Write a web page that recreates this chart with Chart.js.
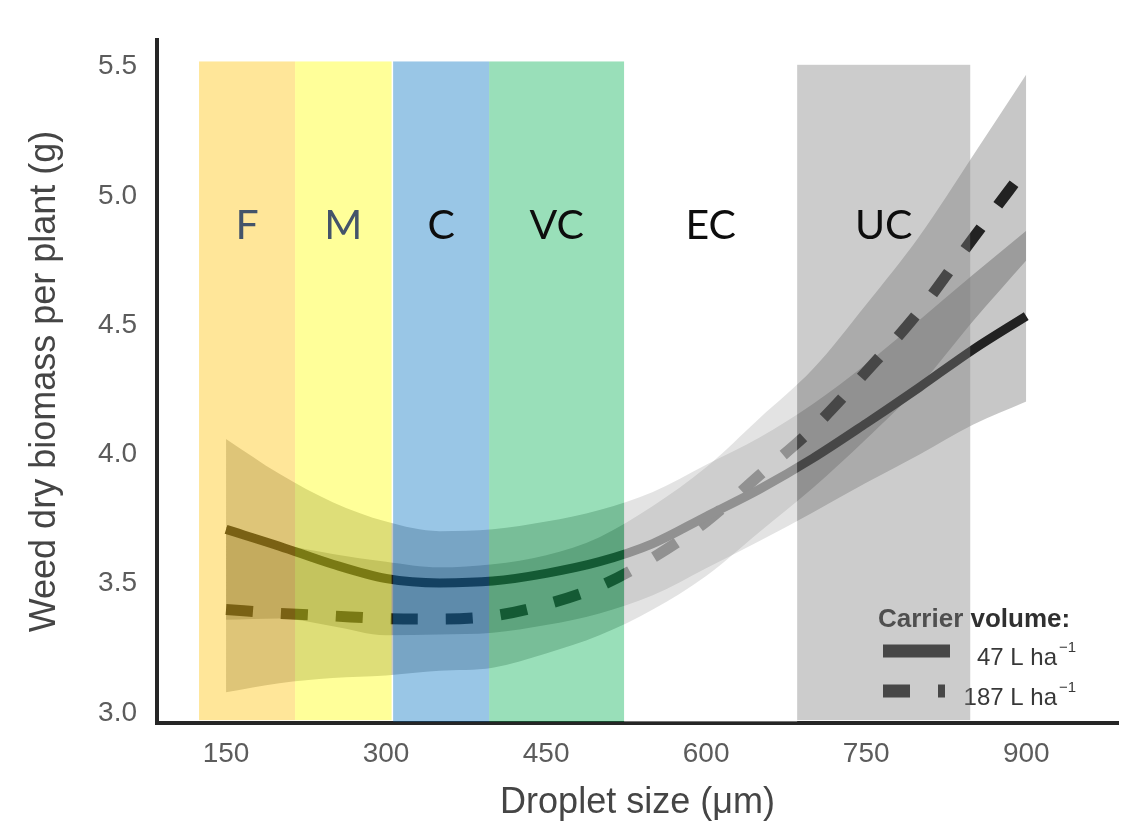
<!DOCTYPE html>
<html>
<head>
<meta charset="utf-8">
<script src="https://cdn.jsdelivr.net/npm/chart.js@4.4.1/dist/chart.umd.min.js"></script>
<style>
  html, body { margin: 0; padding: 0; background: #ffffff; }
  #wrap { width: 1137px; height: 825px; }
</style>
</head>
<body>
<div id="wrap"><canvas id="c" width="1137" height="825"></canvas></div>
<script>
// Fitted weed dry biomass (g per plant) against droplet size (µm), with confidence bands
const dropletSize = [150, 200, 250, 300, 350, 400, 450, 500, 550, 600, 650, 700, 750, 800, 850, 900];

const biomass47      = [3.71, 3.645, 3.575, 3.52, 3.503, 3.51, 3.54, 3.585, 3.655, 3.76, 3.865, 3.985, 4.12, 4.26, 4.405, 4.535];
const biomass47Upper = [4.06, 3.925, 3.815, 3.74, 3.703, 3.71, 3.74, 3.785, 3.855, 3.96, 4.065, 4.195, 4.35, 4.52, 4.695, 4.865];
const biomass47Lower = [3.36, 3.365, 3.335, 3.30, 3.303, 3.31, 3.34, 3.385, 3.455, 3.56, 3.665, 3.775, 3.89, 4.00, 4.115, 4.205];

const biomass187      = [3.40, 3.385, 3.375, 3.365, 3.363, 3.375, 3.42, 3.49, 3.60, 3.74, 3.92, 4.10, 4.32, 4.555, 4.835, 5.11];
const biomass187Upper = [3.72, 3.655, 3.615, 3.585, 3.563, 3.575, 3.61, 3.68, 3.80, 3.95, 4.14, 4.33, 4.58, 4.845, 5.155, 5.47];
const biomass187Lower = [3.08, 3.115, 3.135, 3.145, 3.163, 3.175, 3.23, 3.30, 3.40, 3.53, 3.70, 3.87, 4.06, 4.265, 4.515, 4.75];

const xTickValues = [150, 300, 450, 600, 750, 900];
const yTickValues = [3.0, 3.5, 4.0, 4.5, 5.0, 5.5];

// Droplet size classes shaded across the plot (µm ranges, biomass extent)
const classNames  = ['F', 'M', 'C', 'VC', 'EC', 'UC'];
const classFrom   = [124.7, 214.7, 306.6, 396.6, 523.1, 685.3];
const classTo     = [214.7, 305.2, 396.6, 523.1, 685.3, 847.5];
const classTop    = [5.52, 5.52, 5.52, 5.52, 5.52, 5.507];
const classBottom = [2.972, 2.972, 2.966, 2.966, 2.966, 2.972];

const legendTitle = 'Carrier volume:';
const seriesNames = ['47 L ha', '187 L ha'];
const unitExponent = '\u22121';

// ---- styles ----
const classStyle = {
  fill: ['rgba(255,192,0,0.4)', 'rgba(255,255,0,0.4)', 'rgba(0,112,192,0.4)',
         'rgba(0,176,80,0.4)', 'rgba(255,255,255,0.5)', 'rgba(128,128,128,0.4)'],
  text: ['#44546A', '#44546A', '#0d0d0d', '#0d0d0d', '#0d0d0d', '#0d0d0d'],
  font: '41px Lato',
  labelValue: 4.835
};
const lineColor = '#222222';
const bandColor = 'rgba(0,0,0,0.22)';
const sansFamily = "'Liberation Sans', Arial, sans-serif";

const pts = ys => dropletSize.map((x, i) => ({ x: x, y: ys[i] }));

const classOverlay = {
  id: 'classOverlay',
  afterDatasetsDraw(chart) {
    const ctx = chart.ctx;
    const xs = chart.scales.x, ys = chart.scales.y;
    const area = chart.chartArea;
    ctx.save();

    // legend, bottom right of the plot
    const lx = area.right - 240;
    const b = area.bottom;
    ctx.fillStyle = '#303030';
    ctx.font = 'bold 26px ' + sansFamily;
    ctx.textAlign = 'left';
    ctx.textBaseline = 'alphabetic';
    ctx.fillText(legendTitle, lx, b - 96);

    const ds = chart.data.datasets;
    const rows = [b - 72, b - 32];
    rows.forEach((ry, i) => {
      ctx.save();
      ctx.strokeStyle = ds[i].borderColor;
      ctx.lineWidth = 13;
      ctx.lineCap = 'butt';
      ctx.setLineDash(ds[i].borderDash || []);
      ctx.beginPath();
      ctx.moveTo(lx + 5, ry);
      ctx.lineTo(lx + (i === 0 ? 72 : 67), ry);
      ctx.stroke();
      ctx.restore();
      ctx.fillStyle = '#383838';
      ctx.font = '24px ' + sansFamily;
      ctx.textAlign = 'right';
      ctx.fillText(seriesNames[i], lx + 179, ry + 14);
      ctx.font = '15px ' + sansFamily;
      ctx.textAlign = 'left';
      ctx.fillText(unitExponent, lx + 181, ry + 1);
    });

    // droplet class bands
    classNames.forEach((name, i) => {
      const x0 = xs.getPixelForValue(classFrom[i]);
      const x1 = xs.getPixelForValue(classTo[i]);
      const y0 = ys.getPixelForValue(classTop[i]);
      const y1 = ys.getPixelForValue(classBottom[i]);
      ctx.fillStyle = classStyle.fill[i];
      ctx.fillRect(x0, y0, x1 - x0, y1 - y0);
    });

    // class names
    ctx.font = classStyle.font;
    ctx.textAlign = 'center';
    ctx.textBaseline = 'alphabetic';
    classNames.forEach((name, i) => {
      const cx = xs.getPixelForValue((classFrom[i] + classTo[i]) / 2);
      ctx.fillStyle = classStyle.text[i];
      ctx.fillText(name, cx, ys.getPixelForValue(classStyle.labelValue));
    });
    ctx.restore();
  }
};

new Chart(document.getElementById('c'), {
  type: 'line',
  data: {
    datasets: [
      { label: '47 L ha-1', data: pts(biomass47), borderColor: lineColor, borderWidth: 9,
        borderCapStyle: 'butt', pointRadius: 0, fill: false, cubicInterpolationMode: 'monotone' },
      { label: '187 L ha-1', data: pts(biomass187), borderColor: lineColor, borderWidth: 11,
        borderDash: [27, 28], borderCapStyle: 'butt', pointRadius: 0, fill: false,
        cubicInterpolationMode: 'monotone' },
      { label: '47 upper', data: pts(biomass47Upper), borderWidth: 0, pointRadius: 0,
        backgroundColor: bandColor, fill: '+1', cubicInterpolationMode: 'monotone' },
      { label: '47 lower', data: pts(biomass47Lower), borderWidth: 0, pointRadius: 0,
        fill: false, cubicInterpolationMode: 'monotone' },
      { label: '187 upper', data: pts(biomass187Upper), borderWidth: 0, pointRadius: 0,
        backgroundColor: bandColor, fill: '+1', cubicInterpolationMode: 'monotone' },
      { label: '187 lower', data: pts(biomass187Lower), borderWidth: 0, pointRadius: 0,
        fill: false, cubicInterpolationMode: 'monotone' }
    ]
  },
  options: {
    responsive: false,
    animation: false,
    events: [],
    layout: { padding: { top: 40, right: 19, left: 0, bottom: 0 } },
    plugins: { legend: { display: false }, tooltip: { enabled: false } },
    scales: {
      x: {
        type: 'linear', min: 85.3, max: 986,
        afterBuildTicks: s => { s.ticks = xTickValues.map(v => ({ value: v })); },
        afterFit: s => { s.height = 102; },
        grid: { display: false, drawTicks: false },
        border: { display: true, color: '#262626', width: 4 },
        ticks: { font: { family: sansFamily, size: 28 }, color: '#5c5c5c', padding: 14,
                 maxRotation: 0, autoSkip: false, callback: v => String(v) },
        title: { display: true, text: 'Droplet size (\u03bcm)', color: '#454545',
                 font: { family: sansFamily, size: 36 }, padding: { top: 0, bottom: 0 } }
      },
      y: {
        min: 2.961, max: 5.603,
        afterBuildTicks: s => { s.ticks = yTickValues.map(v => ({ value: v })); },
        afterFit: s => { s.width = 157; },
        grid: { display: false, drawTicks: false },
        border: { display: true, color: '#262626', width: 4 },
        ticks: { font: { family: sansFamily, size: 28 }, color: '#5c5c5c', padding: 20,
                 callback: v => Number(v).toFixed(1) },
        title: { display: true, text: 'Weed dry biomass per plant (g)', color: '#454545',
                 font: { family: sansFamily, size: 36 }, padding: { top: 23, bottom: 0 } }
      }
    }
  },
  plugins: [classOverlay]
});
</script>
</body>
</html>
